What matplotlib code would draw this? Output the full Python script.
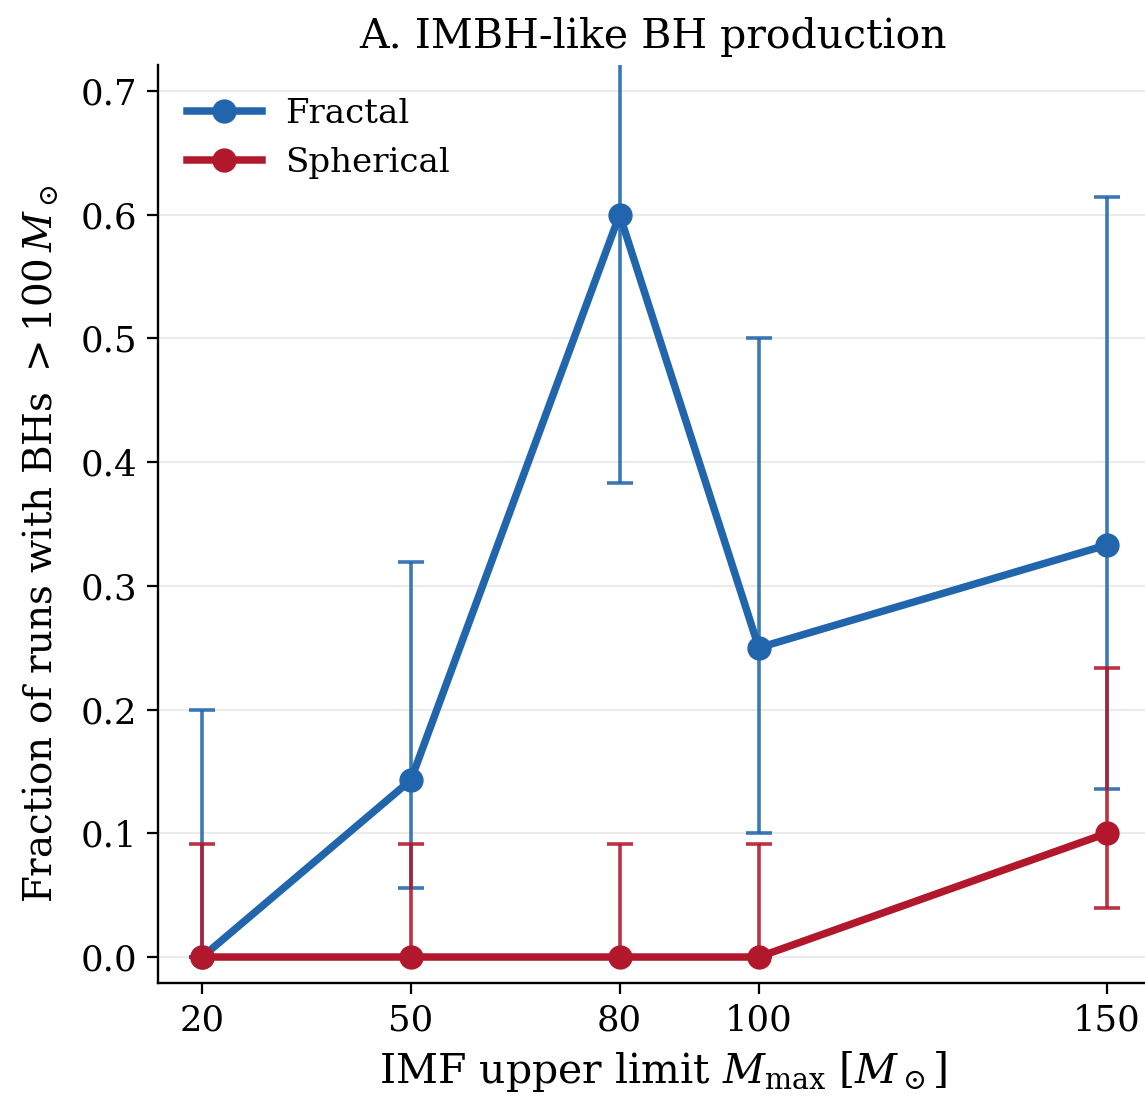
import matplotlib
matplotlib.use("Agg")
import matplotlib.pyplot as plt
import numpy as np

# IMF upper limit values (solar masses)
m_max = [20, 50, 80, 100, 150]

# Fraction of runs producing BHs > 100 Msun, with asymmetric uncertainty bounds
fractal_frac = [0.0, 0.143, 0.600, 0.250, 0.333]
fractal_lo = [0.0, 0.056, 0.383, 0.100, 0.136]
fractal_hi = [0.200, 0.319, 0.820, 0.500, 0.614]

spherical_frac = [0.0, 0.0, 0.0, 0.0, 0.100]
spherical_lo = [0.0, 0.0, 0.0, 0.0, 0.040]
spherical_hi = [0.091, 0.091, 0.091, 0.091, 0.234]

plt.rcParams["font.family"] = ["DejaVu Serif"]
plt.rcParams["mathtext.fontset"] = "dejavuserif"

fig = plt.figure(figsize=(11.45, 10.96), dpi=100)
ax_w = 1 - 158 / 1145 + 0.02
ax = fig.add_axes([158 / 1145, 1 - 983 / 1096, ax_w, (983 - 65) / 1096])

blue = "#2166ac"
red = "#b2182b"


def draw(x, y, lo, hi, color, label):
    y = np.asarray(y)
    yerr = np.vstack([y - np.asarray(lo), np.asarray(hi) - y])
    ax.errorbar(x, y, yerr=yerr, fmt="none", ecolor=color, elinewidth=2.6,
                capsize=9.7, capthick=2.6, alpha=0.88, zorder=2)
    ax.plot(x, y, "-o", color=color, lw=5.4, ms=16.5, label=label, zorder=3)


draw(m_max, fractal_frac, fractal_lo, fractal_hi, blue, "Fractal")
draw(m_max, spherical_frac, spherical_lo, spherical_hi, red, "Spherical")

ax.set_xlim(13.66, 158.8)
ax.set_ylim(-0.021, 0.721)
ax.set_xticks(m_max)
ax.set_yticks(np.arange(0, 0.71, 0.1))
ax.yaxis.set_major_formatter(matplotlib.ticker.FormatStrFormatter("%.1f"))
ax.tick_params(labelsize=25.5, length=8, width=1.6, pad=7)
ax.grid(axis="y", color="#e8e8e8", lw=1.2)
ax.set_axisbelow(True)
for s in ["top", "right"]:
    ax.spines[s].set_visible(False)
for s in ["left", "bottom"]:
    ax.spines[s].set_linewidth(1.7)

ax.set_xlabel(r"IMF upper limit $M_{\rm max}$ [$M_\odot$]", fontsize=29.5, labelpad=8)
ax.set_ylabel(r"Fraction of runs with BHs $>100\,M_\odot$", fontsize=28)
ax.yaxis.set_label_coords(-(158 - 60) / (ax_w * 1145), 0.478)
ax.set_title("A. IMBH-like BH production", fontsize=29.5, pad=12,
             x=(653 - 158) / (ax_w * 1145))
ax.legend(loc="upper left", frameon=False, fontsize=24.5, handlelength=2.2,
          handletextpad=0.7, borderaxespad=0.3, bbox_to_anchor=(0.005, 0.99))

fig.savefig("out.png", dpi=100)
